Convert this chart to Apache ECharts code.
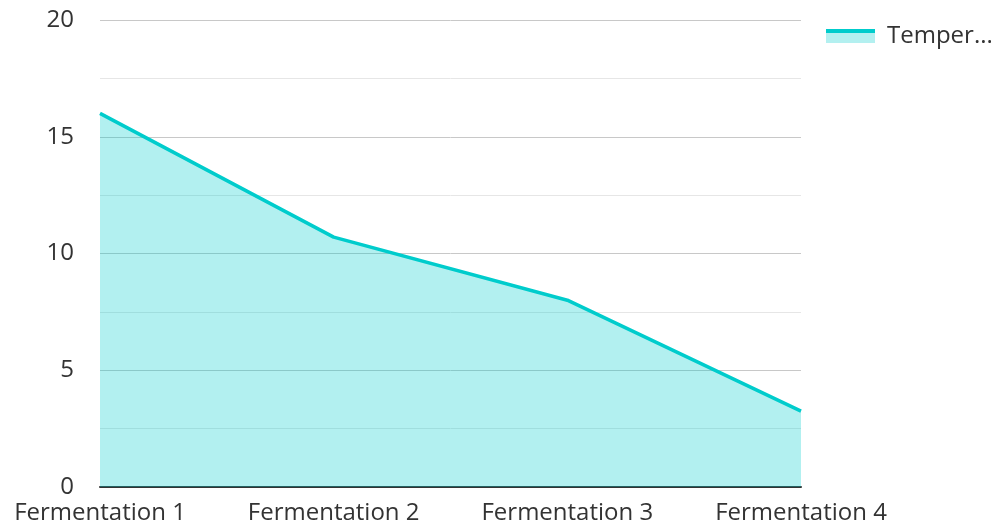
<!DOCTYPE html>
<html lang="en">
<head>
    <meta charset="UTF-8">
    <title>Temperature</title>
    <style>
        html, body { margin: 0; padding: 0; background: #fff; }
        #chart { width: 991px; height: 526px; }
    </style>
    <script src="https://cdn.jsdelivr.net/npm/echarts@6/dist/echarts.min.js"></script>
</head>
<body>
    <div id="chart"></div>
    <script>
        const categories = ['Fermentation 1', 'Fermentation 2', 'Fermentation 3', 'Fermentation 4'];
        const temperature = [16, 10.7, 8, 3.25];
        const seriesName = 'Temperature';

        const lineColor = '#00cccc';
        const areaColor = '#b3f0f0';
        const font = 'Open Sans';

        let chart = echarts.init(document.getElementById('chart'));

        let option = {
            animation: false,
            grid: { left: 100, right: 190, top: 20, bottom: 39 },
            legend: {
                left: 826,
                top: 24,
                padding: 0,
                itemWidth: 49,
                itemHeight: 14,
                icon: 'rect',
                itemStyle: {
                    color: {
                        type: 'linear', x: 0, y: 0, x2: 0, y2: 1,
                        colorStops: [
                            { offset: 0, color: lineColor },
                            { offset: 0.28, color: lineColor },
                            { offset: 0.28, color: areaColor },
                            { offset: 1, color: areaColor }
                        ]
                    }
                },
                lineStyle: { opacity: 0 },
                textStyle: {
                    fontFamily: font, fontSize: 24, color: '#333',
                    width: 112, overflow: 'truncate', ellipsis: '...',
                    padding: [0, 0, 0, 7]
                },
                data: [seriesName]
            },
            xAxis: {
                type: 'category',
                boundaryGap: false,
                data: categories,
                axisLine: { lineStyle: { color: '#333', width: 2 } },
                axisTick: { show: false },
                axisLabel: { fontFamily: font, fontSize: 24, color: '#333', margin: 14 }
            },
            yAxis: {
                type: 'value',
                min: 0,
                max: 20,
                interval: 5,
                axisLine: { show: false },
                axisTick: { show: false },
                minorTick: { show: false, splitNumber: 2 },
                axisLabel: { fontFamily: font, fontSize: 24, color: '#333', margin: 26, padding: [4, 0, 0, 0] },
                splitLine: { lineStyle: { color: '#c8c8c8', width: 1 } },
                minorSplitLine: { show: true, lineStyle: { color: '#e6e6e6', width: 1 } }
            },
            series: [{
                name: seriesName,
                type: 'line',
                data: temperature,
                symbol: 'none',
                lineStyle: { color: lineColor, width: 3.5 },
                itemStyle: { color: lineColor },
                areaStyle: { color: lineColor, opacity: 0.3 }
            }]
        };

        chart.setOption(option);
    </script>
</body>
</html>
